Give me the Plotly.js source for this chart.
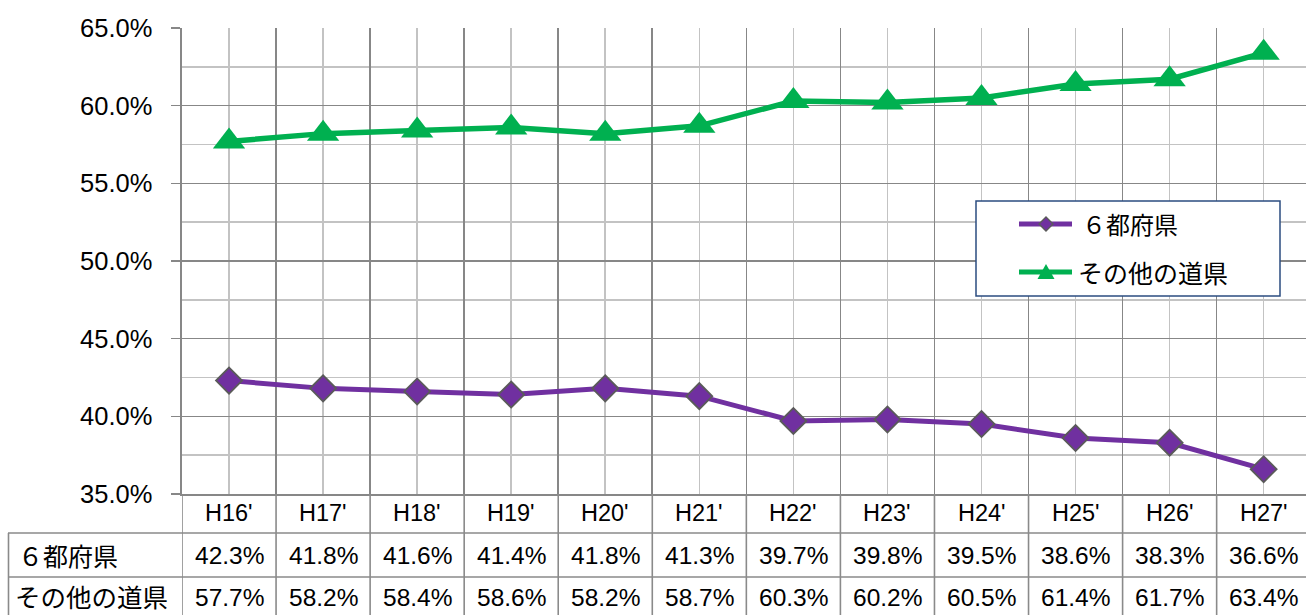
<!DOCTYPE html>
<html>
<head>
<meta charset="utf-8">
<script src="https://cdn.plot.ly/plotly-3.0.1.min.js"></script>
<style>html,body{margin:0;padding:0;background:#fff;}#chart{width:1306px;height:615px;}</style>
</head>
<body>
<div id="chart"></div>
<script>
// ---- data ----
const categories = ["H16'", "H17'", "H18'", "H19'", "H20'", "H21'", "H22'", "H23'", "H24'", "H25'", "H26'", "H27'"];
const seriesNames = ["６都府県", "その他の道県"];
const sixPrefectures = [42.3, 41.8, 41.6, 41.4, 41.8, 41.3, 39.7, 39.8, 39.5, 38.6, 38.3, 36.6];
const otherPrefectures = [57.7, 58.2, 58.4, 58.6, 58.2, 58.7, 60.3, 60.2, 60.5, 61.4, 61.7, 63.4];
const yTicks = [35, 40, 45, 50, 55, 60, 65];

// ---- layout helpers ----
const W = 1306, H = 615, ML = 182, MR = 0, MT = 28, MB = 121;
const PW = W - ML - MR, PH = H - MT - MB;
const X = px => (px - ML) / PW;
const Y = py => (MT + PH - py) / PH;

const PURPLE = '#7030A0', GREEN = '#00B050';
const GRID_MAJOR = '#878787', GRID_MINOR = '#C3C3C3', TABLE = '#8A8A8A';
const NUM_FONT = 'Liberation Sans, Arial, sans-serif';
const CJK_FONT = 'Noto Sans CJK JP, sans-serif';

const idx = categories.map((_, i) => i);

const traces = [
  {
    x: idx, y: otherPrefectures, name: seriesNames[1], type: 'scatter', mode: 'lines+markers',
    line: {color: GREEN, width: 5.5},
    marker: {symbol: 'triangle-up', size: 28, color: GREEN, line: {width: 0}},
    showlegend: false, cliponaxis: false, hoverinfo: 'skip'
  },
  {
    x: idx, y: sixPrefectures, name: seriesNames[0], type: 'scatter', mode: 'lines+markers',
    line: {color: PURPLE, width: 5},
    marker: {symbol: 'diamond', size: 20, color: PURPLE, line: {color: '#5A5A5A', width: 1.8}},
    showlegend: false, cliponaxis: false, hoverinfo: 'skip'
  }
];

const shapes = [];
const annotations = [];
const tableBottom = Y(H + 5);

// vertical table lines at category boundaries (and left axis continuation)
for (let i = 0; i <= categories.length; i++) {
  shapes.push({type: 'line', xref: 'x', yref: 'paper', x0: i - 0.5, x1: i - 0.5, y0: 0, y1: tableBottom,
    line: {color: TABLE, width: 1.6}, layer: 'above'});
}
// left border of label column
shapes.push({type: 'line', xref: 'paper', yref: 'paper', x0: X(8.5), x1: X(8.5), y0: Y(533), y1: tableBottom,
  line: {color: TABLE, width: 1.6}});
// horizontal table lines
[533, 577].forEach(py => {
  shapes.push({type: 'line', xref: 'paper', yref: 'paper', x0: X(8), x1: 1.01, y0: Y(py), y1: Y(py),
    line: {color: TABLE, width: 1.6}});
});

// header labels and values
categories.forEach((c, i) => {
  annotations.push({xref: 'x', yref: 'paper', x: i, y: Y(513), text: c, showarrow: false,
    xanchor: 'center', yanchor: 'middle', font: {family: NUM_FONT, size: 23.5, color: '#000'}});
  annotations.push({xref: 'x', yref: 'paper', x: i, y: Y(555), text: sixPrefectures[i].toFixed(1) + '%', showarrow: false,
    xanchor: 'center', yanchor: 'middle', font: {family: NUM_FONT, size: 24.5, color: '#000'}});
  annotations.push({xref: 'x', yref: 'paper', x: i, y: Y(597), text: otherPrefectures[i].toFixed(1) + '%', showarrow: false,
    xanchor: 'center', yanchor: 'middle', font: {family: NUM_FONT, size: 24.5, color: '#000'}});
});
// row labels
annotations.push({xref: 'paper', yref: 'paper', x: X(16), y: Y(555), text: seriesNames[0], showarrow: false,
  xanchor: 'left', yanchor: 'middle', font: {family: CJK_FONT, size: 25, color: '#000'}});
annotations.push({xref: 'paper', yref: 'paper', x: X(13), y: Y(595), text: seriesNames[1], showarrow: false,
  xanchor: 'left', yanchor: 'middle', font: {family: CJK_FONT, size: 25.5, color: '#000'}});

// ---- custom legend ----
shapes.push({type: 'rect', xref: 'paper', yref: 'paper', x0: X(976), x1: X(1280), y0: Y(296), y1: Y(201),
  fillcolor: '#FFFFFF', line: {color: '#2B4C80', width: 1.5}, layer: 'above'});
shapes.push({type: 'line', xref: 'paper', yref: 'paper', x0: X(1019), x1: X(1072), y0: Y(224), y1: Y(224),
  line: {color: PURPLE, width: 5}, layer: 'above'});
shapes.push({type: 'path', xref: 'paper', yref: 'paper', xsizemode: 'pixel', ysizemode: 'pixel',
  xanchor: X(1046), yanchor: Y(224), path: 'M0,7 L7,0 L0,-7 L-7,0 Z',
  fillcolor: PURPLE, line: {color: '#5A5A5A', width: 1.4}, layer: 'above'});
shapes.push({type: 'line', xref: 'paper', yref: 'paper', x0: X(1019), x1: X(1072), y0: Y(272), y1: Y(272),
  line: {color: GREEN, width: 5}, layer: 'above'});
shapes.push({type: 'path', xref: 'paper', yref: 'paper', xsizemode: 'pixel', ysizemode: 'pixel',
  xanchor: X(1046), yanchor: Y(272), path: 'M-8.5,-7 L8.5,-7 L0,8 Z',
  fillcolor: GREEN, line: {width: 0}, layer: 'above'});
annotations.push({xref: 'paper', yref: 'paper', x: X(1080), y: Y(224), text: seriesNames[0], showarrow: false,
  xanchor: 'left', yanchor: 'middle', font: {family: CJK_FONT, size: 24, color: '#000'}});
annotations.push({xref: 'paper', yref: 'paper', x: X(1076), y: Y(272), text: seriesNames[1], showarrow: false,
  xanchor: 'left', yanchor: 'middle', font: {family: CJK_FONT, size: 25, color: '#000'}});

const layout = {
  width: W, height: H,
  margin: {l: ML, r: MR, t: MT, b: MB, pad: 0},
  paper_bgcolor: '#FFFFFF', plot_bgcolor: '#FFFFFF',
  showlegend: false,
  xaxis: {
    range: [-0.5, 11.45], tick0: -0.5, dtick: 1, showticklabels: false, ticks: '',
    showgrid: true, gridcolor: GRID_MAJOR, gridwidth: 1.6,
    minor: {dtick: 0.5, tick0: -0.5, showgrid: true, gridcolor: GRID_MINOR, gridwidth: 1.6, ticks: ''},
    showline: true, linecolor: GRID_MAJOR, linewidth: 2, zeroline: false, fixedrange: true
  },
  yaxis: {
    range: [35, 65], tickvals: yTicks, ticktext: yTicks.map(v => v.toFixed(1) + '%'),
    ticks: 'outside', ticklen: 9, tickcolor: GRID_MAJOR, tickwidth: 1.6,
    ticklabelstandoff: 13,
    tickfont: {family: NUM_FONT, size: 25.5, color: '#000'},
    showgrid: true, gridcolor: GRID_MAJOR, gridwidth: 1.6,
    minor: {dtick: 2.5, tick0: 35, showgrid: true, gridcolor: GRID_MINOR, gridwidth: 1.6, ticks: ''},
    showline: true, linecolor: GRID_MAJOR, linewidth: 2.5, zeroline: false, fixedrange: true
  },
  shapes: shapes,
  annotations: annotations
};

Plotly.newPlot('chart', traces, layout, {staticPlot: true, displayModeBar: false});
</script>
</body>
</html>
